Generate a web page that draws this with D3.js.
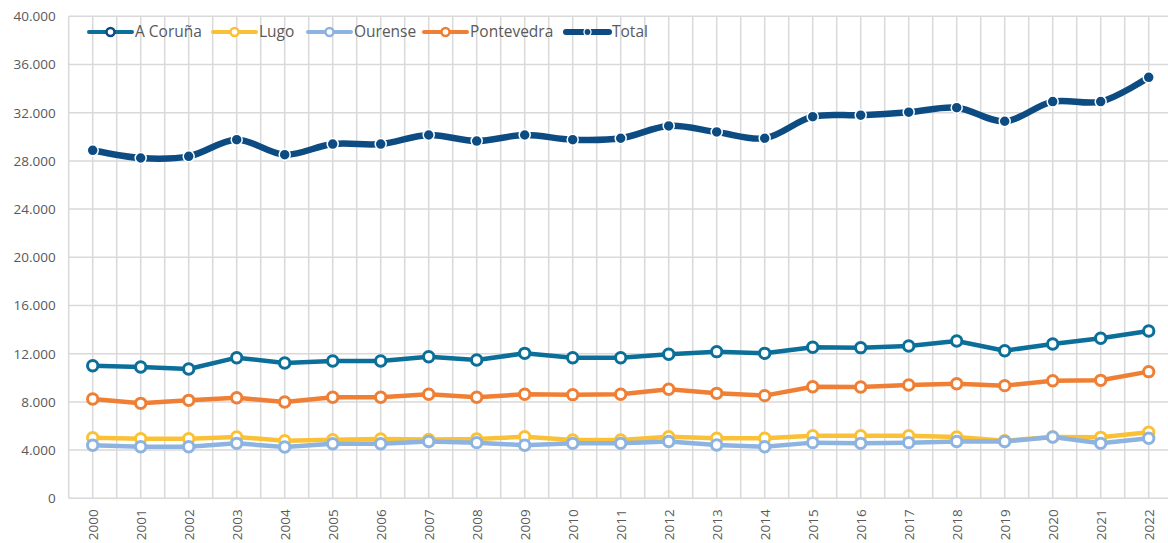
<!DOCTYPE html>
<html>
<head>
<meta charset="utf-8">
<script src="https://cdn.jsdelivr.net/npm/d3@7"></script>
<style>
  html, body { margin: 0; padding: 0; background: #fff; }
  svg text { font-family: "Open Sans", "Liberation Sans", sans-serif; fill: #595959; }
</style>
</head>
<body>
<svg id="chart" width="1168" height="543"></svg>
<script>
// Chart data.
var years = ["2000","2001","2002","2003","2004","2005","2006","2007","2008","2009","2010",
             "2011","2012","2013","2014","2015","2016","2017","2018","2019","2020","2021","2022"];
var coruna =     [11000,10900,10730,11670,11230,11400,11400,11750,11480,12030,11670,
                  11670,11950,12170,12030,12530,12500,12640,13050,12250,12800,13280,13880];
var lugo =       [5030,4950,4950,5090,4780,4860,4920,4880,4920,5110,4840,
                  4840,5110,4980,4980,5200,5200,5200,5090,4780,5090,5060,5480];
var ourense =    [4400,4280,4280,4560,4260,4530,4530,4710,4620,4400,4560,
                  4560,4710,4420,4280,4620,4560,4620,4710,4710,5090,4560,4980];
var pontevedra = [8240,7880,8130,8350,7990,8380,8380,8630,8380,8630,8600,
                  8630,9050,8710,8520,9260,9240,9400,9510,9350,9760,9790,10510];
var total =      [28880,28240,28380,29760,28520,29400,29400,30150,29650,30150,29760,
                  29880,30900,30400,29880,31670,31790,32040,32420,31290,32920,32920,34940];
var yTicks = [0,4000,8000,12000,16000,20000,24000,28000,32000,36000,40000];

var series = [
  { name: "A Coruña",   values: coruna,     color: "#0b6f9a", legendMark: "#0d4c82", smooth: false },
  { name: "Lugo",       values: lugo,       color: "#fbc136", legendMark: "#fbc136", smooth: false },
  { name: "Ourense",    values: ourense,    color: "#8db3e0", legendMark: "#8db3e0", smooth: false },
  { name: "Pontevedra", values: pontevedra, color: "#ef7f34", legendMark: "#ef7f34", smooth: false },
  { name: "Total",      values: total,      color: "#0d4c82", legendMark: "#0d4c82", smooth: true }
];
// draw order: provinces bottom to top, then total
var drawOrder = [1, 2, 3, 0, 4];

var svg = d3.select("#chart");
var plotLeft = 68.7, plotTop = 16.3, plotBottom = 498.3;

var x = d3.scalePoint().domain(years).range([92.7, 1148.7]);
var step = x.step();
var y = d3.scaleLinear().domain([0, 40000]).range([plotBottom, plotTop]);

var fmt = function(v) { return d3.format(",")(v).replace(/,/g, "."); };

// vertical gridlines at category centers and band edges
var vLines = [];
years.forEach(function(yr) { vLines.push(x(yr) - step / 2); vLines.push(x(yr)); });
vLines.push(x(years[years.length - 1]) + step / 2);

var grid = svg.append("g");
grid.selectAll("line.v")
  .data(vLines)
  .enter()
  .append("line")
  .attr("class", "v")
  .attr("x1", function(d) { return d; })
  .attr("x2", function(d) { return d; })
  .attr("y1", plotTop)
  .attr("y2", plotBottom)
  .attr("stroke", "#d9d9d9")
  .attr("stroke-width", 1.5);

grid.selectAll("line.h")
  .data(yTicks)
  .enter()
  .append("line")
  .attr("class", "h")
  .attr("x1", plotLeft)
  .attr("x2", 1180)
  .attr("y1", function(d) { return y(d); })
  .attr("y2", function(d) { return y(d); })
  .attr("stroke", "#d9d9d9")
  .attr("stroke-width", 1.5);

// y axis labels
var yAxis = svg.append("g")
  .attr("transform", "translate(" + plotLeft + ",0)")
  .call(d3.axisLeft(y).tickValues(yTicks).tickFormat(fmt).tickSize(0).tickPadding(13));
yAxis.select(".domain").remove();
yAxis.selectAll("text").style("font-size", "13.5px").attr("fill", "#595959");

// x axis labels, rotated
var xAxis = svg.append("g")
  .attr("transform", "translate(0," + plotBottom + ")")
  .call(d3.axisBottom(x).tickSize(0));
xAxis.select(".domain").remove();
xAxis.selectAll("text")
  .style("font-size", "13.5px")
  .attr("fill", "#595959")
  .attr("text-anchor", "end")
  .attr("transform", "rotate(-90)")
  .attr("x", -11)
  .attr("y", 0)
  .attr("dy", "0.35em");

// series
drawOrder.forEach(function(i) {
  var s = series[i];
  var line = d3.line()
    .x(function(d, j) { return x(years[j]); })
    .y(function(d) { return y(d); })
    .curve(s.smooth ? d3.curveCatmullRom.alpha(0.5) : d3.curveLinear);

  var g = svg.append("g");
  g.append("path")
    .attr("d", line(s.values))
    .attr("fill", "none")
    .attr("stroke", s.color)
    .attr("stroke-width", s.smooth ? 6.5 : 4.5)
    .attr("stroke-linejoin", "round")
    .attr("stroke-linecap", "round");

  g.selectAll("circle")
    .data(s.values)
    .enter()
    .append("circle")
    .attr("cx", function(d, j) { return x(years[j]); })
    .attr("cy", function(d) { return y(d); })
    .attr("r", s.smooth ? 5.5 : 5.2)
    .attr("fill", s.smooth ? s.color : "#fff")
    .attr("stroke", s.smooth ? "#fff" : s.color)
    .attr("stroke-width", s.smooth ? 1.5 : 3);
});

// legend
var legendX = [89, 213, 308, 424, 566];
var legend = svg.append("g").attr("transform", "translate(0,32)");
series.forEach(function(s, i) {
  var g = legend.append("g").attr("transform", "translate(" + legendX[i] + ",0)");
  g.append("line")
    .attr("x1", 0).attr("x2", 43)
    .attr("y1", 0).attr("y2", 0)
    .attr("stroke", s.color)
    .attr("stroke-width", s.smooth ? 6 : 4)
    .attr("stroke-linecap", "round");
  g.append("circle")
    .attr("cx", 21.5).attr("cy", 0)
    .attr("r", s.smooth ? 3.5 : 4)
    .attr("fill", s.smooth ? s.color : "#fff")
    .attr("stroke", s.smooth ? "#fff" : s.legendMark)
    .attr("stroke-width", s.smooth ? 1.2 : 2.5);
  g.append("text")
    .attr("x", 46)
    .attr("y", 0)
    .attr("dy", "0.35em")
    .style("font-size", "15.5px")
    .text(s.name);
});
</script>
</body>
</html>
